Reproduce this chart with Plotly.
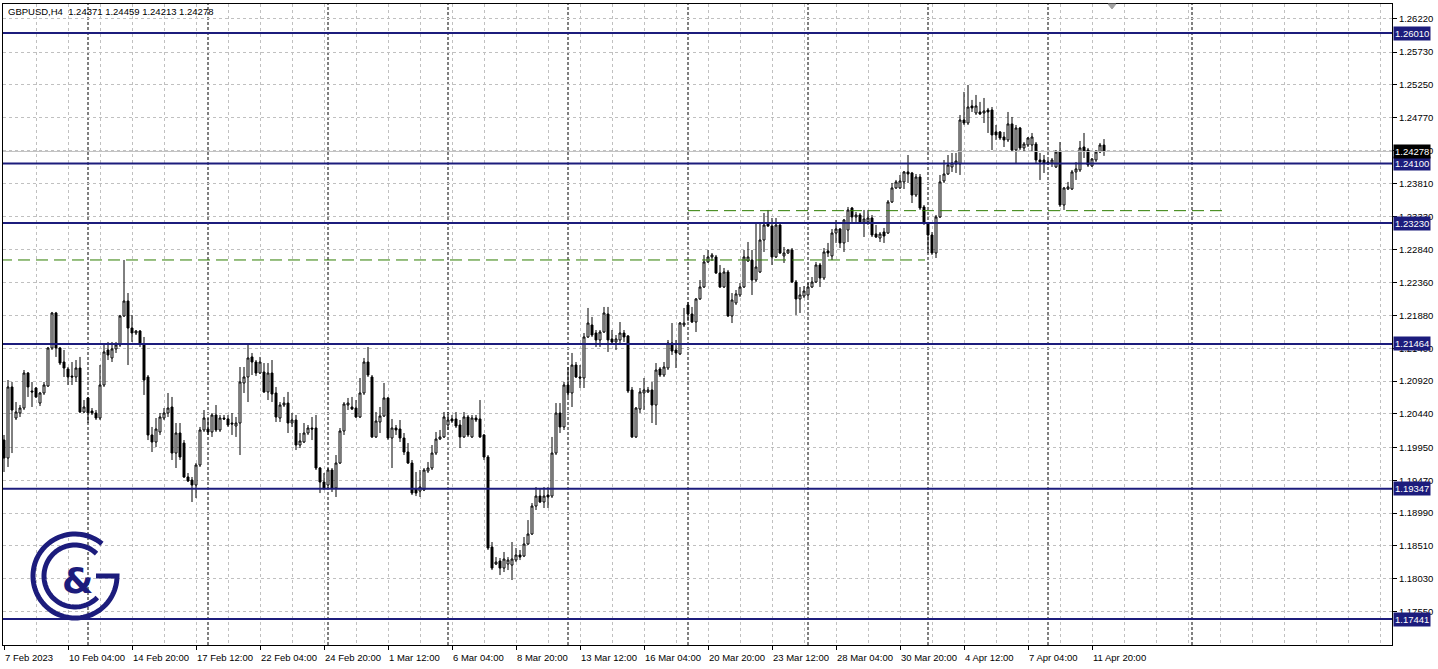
import numpy as np
import plotly.graph_objects as go

W, H = 1438, 669
ML, MR, MT, MB = 3, 46, 4, 24

symbol = "GBPUSD,H4"

opens = [
 1.20058,1.19795,1.20834,1.20380,1.20453,1.20526,1.21038,1.20775,1.20819,1.20599,
 1.20746,1.20848,1.21404,1.21916,1.21404,1.21199,1.21097,1.20994,1.20980,1.21111,
 1.20468,1.20673,1.20482,1.20453,1.20380,1.20863,1.21375,1.21258,1.21390,1.21448,
 1.21872,1.22091,1.21696,1.21623,1.21652,1.21448,1.20980,1.20132,1.20029,1.20176,
 1.20380,1.20453,1.20541,1.19868,1.20161,1.20014,1.19518,1.19473,1.19400,1.19693,
 1.20205,1.20219,1.20176,1.20424,1.20205,1.20380,1.20366,1.20307,1.20263,1.20307,
 1.20892,1.20980,1.21273,1.21199,1.21038,1.21053,1.20761,1.21038,1.20746,1.20380,
 1.20570,1.20599,1.20307,1.20351,1.19985,1.20029,1.20161,1.20234,1.20234,1.19649,
 1.19444,1.19400,1.19620,1.19356,1.19722,1.20190,1.20570,1.20541,1.20526,1.20395,
 1.20746,1.21199,1.20980,1.20103,1.20322,1.20409,1.20673,1.20088,1.20234,1.20219,
 1.20088,1.19883,1.19722,1.19342,1.19312,1.19327,1.19605,1.19649,1.19868,1.20073,
 1.20103,1.20278,1.20366,1.20366,1.20278,1.20103,1.20395,1.20103,1.20380,1.20366,
 1.20132,1.19810,1.18493,1.18245,1.18289,1.18186,1.18245,1.18230,1.18303,1.18377,
 1.18362,1.18538,1.18684,1.19093,1.19239,1.19152,1.19254,1.19239,1.19868,1.20453,
 1.20249,1.20863,1.20746,1.21155,1.20980,1.20965,1.21565,1.21740,1.21623,1.21521,
 1.21638,1.21901,1.21536,1.21492,1.21521,1.21623,1.21580,1.20790,1.20103,1.20511,
 1.20746,1.20761,1.20790,1.20570,1.21097,1.21009,1.21111,1.21477,1.21375,1.21317,
 1.21740,1.22033,1.21901,1.21784,1.22121,1.22296,1.22662,1.22735,1.22735,1.22501,
 1.22296,1.22515,1.21872,1.22062,1.22179,1.22296,1.22676,1.22691,1.22398,1.22515,
 1.22983,1.23217,1.23188,1.22735,1.23202,1.22750,1.22793,1.22837,1.22369,1.22121,
 1.22164,1.22179,1.22296,1.22369,1.22618,1.22427,1.22823,1.22750,1.23085,1.23144,
 1.22940,1.23129,1.23451,1.23320,1.23349,1.23247,1.23247,1.23305,1.23071,1.23012,
 1.23100,1.23085,1.23539,1.23744,1.23744,1.23832,1.23978,1.23963,1.23641,1.23904,
 1.23466,1.23232,1.23056,1.22793,1.23320,1.23846,1.23948,1.24051,1.24095,1.24095,
 1.24738,1.24694,1.24943,1.24840,1.24855,1.24840,1.24884,1.24884,1.24563,1.24563,
 1.24489,1.24446,1.24680,1.24299,1.24621,1.24329,1.24372,1.24372,1.24387,1.24153,
 1.24153,1.24124,1.24109,1.24051,1.24270,1.23495,1.23729,1.23729,1.23978,1.24007,
 1.24343,1.24299,1.24065,1.24153,1.24270,1.24371]

highs = [
 1.20132,1.20936,1.20907,1.20614,1.20570,1.21082,1.21053,1.20907,1.20834,1.20761,
 1.20907,1.21419,1.21931,1.21931,1.21419,1.21375,1.21126,1.21199,1.21228,1.21273,
 1.20643,1.20688,1.20526,1.20497,1.21155,1.21448,1.21492,1.21492,1.21492,1.21887,
 1.22691,1.22208,1.21887,1.21667,1.21667,1.21565,1.21009,1.20249,1.20380,1.20453,
 1.20526,1.20746,1.20688,1.20307,1.20307,1.20058,1.19576,1.19518,1.19722,1.20249,
 1.20497,1.20380,1.20453,1.20570,1.20424,1.20424,1.20424,1.20453,1.20395,1.21126,
 1.21126,1.21448,1.21331,1.21228,1.21273,1.21184,1.21184,1.21228,1.20834,1.20614,
 1.20688,1.20761,1.20453,1.20424,1.20161,1.20307,1.20278,1.20395,1.20424,1.19664,
 1.19576,1.19649,1.19649,1.19839,1.20234,1.20614,1.20673,1.20688,1.20643,1.20965,
 1.21258,1.21419,1.21009,1.20468,1.20541,1.20892,1.20688,1.20366,1.20278,1.20351,
 1.20161,1.20014,1.19766,1.19591,1.19620,1.19649,1.19737,1.19985,1.20176,1.20205,
 1.20468,1.20468,1.20424,1.20468,1.20351,1.20468,1.20424,1.20424,1.20424,1.20643,
 1.20146,1.19839,1.18567,1.18347,1.18333,1.18421,1.18347,1.18567,1.18479,1.18450,
 1.18640,1.18888,1.19137,1.19371,1.19356,1.19371,1.19371,1.20103,1.20599,1.20599,
 1.20907,1.21126,1.21331,1.21199,1.21155,1.21623,1.21989,1.21858,1.21667,1.21667,
 1.22004,1.22004,1.21667,1.21594,1.21784,1.21667,1.21594,1.20834,1.20541,1.20819,
 1.20965,1.20834,1.20907,1.21184,1.21126,1.21199,1.21521,1.21769,1.21521,1.21784,
 1.21989,1.22077,1.22004,1.22135,1.22398,1.22764,1.22837,1.22793,1.22764,1.22618,
 1.22574,1.22545,1.22208,1.22252,1.22354,1.22837,1.22954,1.22837,1.23232,1.23217,
 1.23378,1.23422,1.23305,1.23305,1.23232,1.22881,1.22852,1.22866,1.22398,1.22296,
 1.22310,1.22369,1.22442,1.22662,1.22647,1.22866,1.22940,1.23144,1.23276,1.23159,
 1.23290,1.23466,1.23466,1.23393,1.23378,1.23422,1.23422,1.23349,1.23203,1.23100,
 1.23159,1.23568,1.23817,1.23861,1.23934,1.23992,1.24226,1.23978,1.23948,1.23948,
 1.23495,1.23247,1.23100,1.23349,1.23934,1.24153,1.24226,1.24255,1.24255,1.24811,
 1.25148,1.25250,1.25031,1.25104,1.25002,1.25060,1.24914,1.24928,1.24665,1.24577,
 1.24563,1.24855,1.24782,1.24665,1.24636,1.24416,1.24489,1.24548,1.24416,1.24255,
 1.24226,1.24153,1.24182,1.24299,1.24416,1.23759,1.23832,1.24007,1.24124,1.24431,
 1.24548,1.24329,1.24182,1.24299,1.24402,1.24459]

lows = [
 1.19591,1.19664,1.19868,1.20351,1.20395,1.20497,1.20688,1.20541,1.20673,1.20555,
 1.20717,1.20834,1.21375,1.21273,1.21155,1.20980,1.20863,1.20863,1.20907,1.20453,
 1.20453,1.20307,1.20424,1.20351,1.20351,1.20834,1.21228,1.21199,1.21331,1.21419,
 1.21858,1.21155,1.21492,1.21594,1.21419,1.20717,1.20058,1.19883,1.19956,1.20132,
 1.20351,1.20395,1.19766,1.19649,1.19766,1.19503,1.19444,1.19152,1.19210,1.19664,
 1.20176,1.20132,1.20103,1.20176,1.20176,1.20351,1.20249,1.20132,1.20103,1.19839,
 1.20746,1.20614,1.21009,1.20994,1.21024,1.20746,1.20643,1.20614,1.20322,1.20322,
 1.20541,1.20161,1.20249,1.19912,1.19941,1.20014,1.20132,1.20058,1.19620,1.19283,
 1.19327,1.19356,1.19298,1.19225,1.19708,1.20132,1.20497,1.20497,1.20380,1.20380,
 1.20717,1.20980,1.20088,1.20088,1.20161,1.20395,1.20058,1.19649,1.20132,1.20029,
 1.19839,1.19708,1.19254,1.19239,1.19225,1.19312,1.19576,1.19620,1.19839,1.20058,
 1.20088,1.20205,1.20307,1.20234,1.19941,1.20088,1.20103,1.20088,1.20322,1.20088,
 1.19766,1.18450,1.18157,1.18230,1.18084,1.18128,1.18157,1.18011,1.18274,1.18303,
 1.18347,1.18523,1.18669,1.19035,1.19137,1.19064,1.19064,1.19210,1.19839,1.20161,
 1.20205,1.20688,1.20541,1.20965,1.20819,1.20819,1.21550,1.21565,1.21419,1.21419,
 1.21623,1.21346,1.21477,1.21375,1.21477,1.21492,1.20746,1.20088,1.20088,1.20453,
 1.20497,1.20746,1.20307,1.20278,1.20980,1.20980,1.21082,1.21302,1.21111,1.21302,
 1.21711,1.21798,1.21769,1.21638,1.22106,1.22281,1.22647,1.22676,1.22486,1.22281,
 1.22281,1.21858,1.21769,1.22033,1.22150,1.22281,1.22662,1.22179,1.22369,1.22501,
 1.22808,1.23173,1.22618,1.22720,1.22779,1.22647,1.22779,1.22354,1.21887,1.21916,
 1.22135,1.22150,1.22281,1.22354,1.22296,1.22398,1.22735,1.22691,1.22940,1.22866,
 1.22808,1.22954,1.23247,1.23247,1.23232,1.23027,1.23203,1.23027,1.23012,1.22954,
 1.22940,1.23071,1.23524,1.23729,1.23729,1.23729,1.23817,1.23524,1.23612,1.23422,
 1.23203,1.22793,1.22764,1.22720,1.23305,1.23817,1.23934,1.23978,1.23963,1.23934,
 1.24665,1.24665,1.24855,1.24811,1.24811,1.24694,1.24548,1.24299,1.24446,1.24446,
 1.24343,1.24416,1.24270,1.24109,1.24299,1.24270,1.24343,1.24270,1.24109,1.23861,
 1.23963,1.24080,1.24051,1.24036,1.23466,1.23422,1.23714,1.23714,1.23861,1.23978,
 1.24182,1.24051,1.24051,1.24124,1.24255,1.24213]

closes = [
 1.19795,1.20834,1.20497,1.20468,1.20526,1.21038,1.20834,1.20761,1.20688,1.20746,
 1.20863,1.21404,1.21916,1.21404,1.21184,1.21111,1.20980,1.20980,1.21111,1.20468,
 1.20541,1.20453,1.20453,1.20380,1.20863,1.21346,1.21302,1.21390,1.21448,1.21872,
 1.22091,1.21696,1.21623,1.21652,1.21477,1.20936,1.20132,1.20029,1.20219,1.20395,
 1.20453,1.20526,1.19868,1.20161,1.19810,1.19518,1.19459,1.19400,1.19693,1.20205,
 1.20380,1.20176,1.20424,1.20205,1.20380,1.20366,1.20278,1.20293,1.20307,1.20907,
 1.20980,1.21258,1.21199,1.21038,1.21199,1.20761,1.21038,1.20731,1.20395,1.20570,
 1.20599,1.20307,1.20351,1.19985,1.20044,1.20161,1.20234,1.20219,1.19649,1.19444,
 1.19356,1.19620,1.19356,1.19722,1.20190,1.20585,1.20599,1.20511,1.20395,1.20746,
 1.21199,1.21009,1.20103,1.20336,1.20409,1.20673,1.20088,1.20234,1.20205,1.20088,
 1.19883,1.19722,1.19283,1.19283,1.19371,1.19620,1.19649,1.19868,1.20073,1.20103,
 1.20395,1.20351,1.20336,1.20263,1.20103,1.20395,1.20132,1.20380,1.20351,1.20103,
 1.19810,1.18479,1.18186,1.18274,1.18186,1.18318,1.18303,1.18318,1.18377,1.18347,
 1.18538,1.18684,1.19093,1.19239,1.19152,1.19239,1.19225,1.19868,1.20453,1.20249,
 1.20863,1.20746,1.21155,1.20980,1.20965,1.21565,1.21769,1.21594,1.21521,1.21638,
 1.21916,1.21521,1.21492,1.21536,1.21623,1.21565,1.20775,1.20103,1.20526,1.20761,
 1.20790,1.20790,1.20570,1.21082,1.21009,1.21126,1.21477,1.21360,1.21331,1.21769,
 1.21769,1.21901,1.21784,1.22121,1.22296,1.22662,1.22735,1.22764,1.22501,1.22296,
 1.22515,1.21872,1.22106,1.22194,1.22296,1.22735,1.22735,1.22398,1.22588,1.22983,
 1.23202,1.23188,1.22735,1.23202,1.22793,1.22793,1.22837,1.22369,1.22121,1.22179,
 1.22237,1.22296,1.22369,1.22618,1.22427,1.22808,1.22793,1.23085,1.23144,1.22940,
 1.23276,1.23422,1.23320,1.23349,1.23247,1.23290,1.23305,1.23056,1.23027,1.23071,
 1.23042,1.23539,1.23744,1.23832,1.23846,1.23978,1.23948,1.23641,1.23904,1.23451,
 1.23232,1.23056,1.22793,1.23320,1.23832,1.23948,1.24080,1.24109,1.24138,1.24738,
 1.24694,1.24928,1.24914,1.24943,1.24826,1.24870,1.24855,1.24519,1.24519,1.24475,
 1.24446,1.24680,1.24299,1.24621,1.24329,1.24387,1.24475,1.24489,1.24153,1.24124,
 1.24109,1.24109,1.24153,1.24270,1.23495,1.23744,1.23759,1.23978,1.24022,1.24329,
 1.24285,1.24080,1.24168,1.24270,1.24372,1.24278]

time_labels = ["7 Feb 2023", "10 Feb 04:00", "14 Feb 20:00", "17 Feb 12:00",
               "22 Feb 04:00", "24 Feb 20:00", "1 Mar 12:00", "6 Mar 04:00",
               "8 Mar 20:00", "13 Mar 12:00", "16 Mar 04:00", "20 Mar 20:00",
               "23 Mar 12:00", "28 Mar 04:00", "30 Mar 20:00", "4 Apr 12:00",
               "7 Apr 04:00", "11 Apr 20:00"]
label_every = 16
grid_every = 8
week_starts = [21, 51, 81, 111, 141, 171, 201, 231, 261, 297]

price_ticks = [1.17060, 1.17550, 1.18030, 1.18510, 1.18990, 1.19470, 1.19950,
               1.20440, 1.20920, 1.21400, 1.21880, 1.22360, 1.22840, 1.23330,
               1.23810, 1.24290, 1.24770, 1.25250, 1.25730, 1.26220]

levels = [1.26010, 1.24100, 1.23230, 1.21464, 1.19347, 1.17441]
green_levels = [1.22691, 1.23412]
green_from = [-1.0, 171.0]
green_to = [230.25, 306.0]

y_range = [1.17061, 1.26434]
x_range = [-0.25, 347.0]
shift_marker_bar = 277

NAVY = "#1c1c7c"
GRID = "#c0c0c0"
GREEN = "#2e7d00"
FONT = "Liberation Sans"

n = len(opens)
bars = list(range(n))

pw = W - ML - MR
ph = H - MT - MB


def px(x, y):
    return (x - ML) / pw, (H - MB - y) / ph


fig = go.Figure()
fig.add_trace(go.Candlestick(
    x=bars, open=opens, high=highs, low=lows, close=closes,
    increasing=dict(line=dict(color="black", width=1), fillcolor="white"),
    decreasing=dict(line=dict(color="black", width=1), fillcolor="black"),
    whiskerwidth=0, hoverinfo="skip", showlegend=False))

shapes = []
for w in week_starts:
    shapes.append(dict(type="line", xref="x", yref="paper", x0=w, x1=w, y0=0, y1=1,
                       line=dict(color="black", width=1, dash="3px,2px"), layer="below"))
shapes.append(dict(type="line", xref="paper", yref="y", x0=0, x1=1,
                   y0=closes[-1], y1=closes[-1], line=dict(color="#c0c0c0", width=1)))
for lv, a, b in zip(green_levels, green_from, green_to):
    shapes.append(dict(type="line", xref="x", yref="y", x0=a, x1=b, y0=lv, y1=lv,
                       line=dict(color=GREEN, width=1, dash="12px,6px")))
for lv in levels:
    shapes.append(dict(type="line", xref="paper", yref="y", x0=0, x1=1, y0=lv, y1=lv,
                       line=dict(color=NAVY, width=2)))

# chart shift marker (small grey triangle at the top)
sx = (shift_marker_bar - x_range[0]) / (x_range[1] - x_range[0])
dx = 4 / pw
dy = 5 / ph
shapes.append(dict(type="path", xref="paper", yref="paper",
                   path=f"M {sx-dx:.5f},1 L {sx+dx:.5f},1 L {sx:.5f},{1-dy:.5f} Z",
                   fillcolor="#a0a0a0", line=dict(color="#a0a0a0", width=1)))


def arc(cx, cy, r, a0, a1, extra=None):
    t = np.radians(np.linspace(a0, a1, 80))
    pts = [px(cx + r * np.cos(v), cy - r * np.sin(v)) for v in t]
    if extra:
        pts += [px(*e) for e in extra]
    return "M " + " L ".join(f"{p[0]:.5f},{p[1]:.5f}" for p in pts)

shapes.append(dict(type="path", xref="paper", yref="paper",
                   path=arc(75, 576, 42, 50, 360, extra=[(96, 576)]),
                   line=dict(color=NAVY, width=5)))
shapes.append(dict(type="path", xref="paper", yref="paper",
                   path=arc(75, 576, 31, 46, 316),
                   line=dict(color=NAVY, width=5)))

annotations = []
lx, ly = px(77, 580)
annotations.append(dict(x=lx, y=ly, xref="paper", yref="paper", text="<b>&</b>",
                        xanchor="center", yanchor="middle",
                        showarrow=False, font=dict(family="DejaVu Sans", size=36, color=NAVY)))

tx, ty = px(6, 12)
annotations.append(dict(x=tx, y=ty, xref="paper", yref="paper", xanchor="left", yanchor="middle",
                        text=f"{symbol}  {opens[-1]:.5f} {highs[-1]:.5f} {lows[-1]:.5f} {closes[-1]:.5f}",
                        showarrow=False, font=dict(family=FONT, size=9.5, color="black")))

for lv in levels:
    annotations.append(dict(x=1, y=lv, xref="paper", yref="y", xanchor="left", yanchor="middle",
                            xshift=1, text=f"{lv:.5f}", showarrow=False, bgcolor=NAVY,
                            borderpad=1, font=dict(family=FONT, size=9.5, color="white")))
annotations.append(dict(x=1, y=closes[-1], xref="paper", yref="y", xanchor="left", yanchor="middle",
                        xshift=1, text=f"{closes[-1]:.5f}", showarrow=False, bgcolor="black",
                        borderpad=1, font=dict(family=FONT, size=9.5, color="white")))

fig.update_layout(
    width=W, height=H, margin=dict(l=ML, r=MR, t=MT, b=MB, autoexpand=False),
    paper_bgcolor="white", plot_bgcolor="white",
    font=dict(family=FONT, size=9.5, color="black"),
    shapes=shapes, annotations=annotations, showlegend=False,
    xaxis=dict(range=x_range, rangeslider=dict(visible=False), automargin=False,
               tickmode="array", tickvals=bars[::label_every], ticktext=time_labels,
               ticklabelposition="outside right", tickangle=0, ticklabelstandoff=4,
               ticks="outside", ticklen=4, tickcolor="black",
               showgrid=True, gridcolor=GRID, griddash="3px,3px", gridwidth=1,
               minor=dict(tickvals=list(range(0, int(x_range[1]), grid_every)),
                          showgrid=True, gridcolor=GRID, griddash="3px,3px", ticks=""),
               showline=True, linecolor="black", linewidth=1, mirror=True,
               zeroline=False, fixedrange=True),
    yaxis=dict(range=y_range, side="right", automargin=False,
               tickmode="array", tickvals=price_ticks,
               ticktext=[f"{v:.5f}" for v in price_ticks],
               ticks="outside", ticklen=4, tickcolor="black",
               showgrid=True, gridcolor=GRID, griddash="3px,3px", gridwidth=1,
               showline=True, linecolor="black", linewidth=1, mirror=True,
               zeroline=False, fixedrange=True),
)

fig.write_html("out.html", config={"displayModeBar": False},
               post_script="document.body.style.margin='0';document.body.style.overflow='hidden';")
